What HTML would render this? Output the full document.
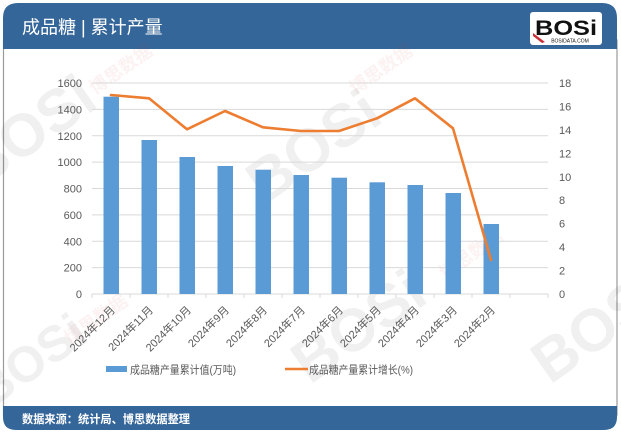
<!DOCTYPE html>
<html><head><meta charset="utf-8"><style>
html,body{margin:0;padding:0;background:#fff;}
svg{display:block;}
text{font-family:"Liberation Sans","Noto Sans CJK SC",sans-serif;}
</style></head><body>
<svg width="621" height="433" viewBox="0 0 621 433" xmlns="http://www.w3.org/2000/svg">
<rect x="0" y="0" width="621" height="433" fill="#fff"/>
<!-- frame -->
<rect x="3.5" y="40" width="613.5" height="375" fill="#fff" stroke="#9a9a9a" stroke-width="1.2"/>
<!-- header -->
<path d="M3,49 L3,18 Q3,3 18,3 L602,3 Q617,3 617,18 L617,49 Z" fill="#356699"/>
<text x="22" y="33.5" font-size="18" fill="#fff">成品糖 | 累计产量</text>
<!-- logo -->
<rect x="530" y="12" width="72" height="33" rx="3" fill="#fff"/>
<text x="566" y="35" font-size="21" font-weight="bold" fill="#111" text-anchor="middle" style="font-family:'Liberation Sans',sans-serif" textLength="62" lengthAdjust="spacingAndGlyphs">BOSi</text>
<path d="M533,33 L545,42 L542,43 L533,36 Z" fill="#c8313a"/>
<text x="570" y="42.5" font-size="5" fill="#111" text-anchor="middle">BOSIDATA.COM</text>
<!-- footer -->
<path d="M3,406 L617,406 L617,417 Q617,430 604,430 L16,430 Q3,430 3,417 Z" fill="#356699"/>
<text x="22" y="423" font-size="11.5" font-weight="bold" fill="#fff" textLength="168" lengthAdjust="spacingAndGlyphs">数据来源：统计局、博思数据整理</text>

<!-- watermarks -->
<g fill="#000" opacity="0.06" font-weight="bold" style="font-family:'Liberation Sans',sans-serif">
<text x="0" y="0" font-size="60" transform="translate(-20,190) rotate(-35)">BOSi</text>
<text x="0" y="0" font-size="60" transform="translate(265,205) rotate(-35)">BOSi</text>
<text x="0" y="0" font-size="60" transform="translate(310,385) rotate(-35)">BOSi</text>
<text x="0" y="0" font-size="60" transform="translate(550,385) rotate(-35)">BOSi</text>
<text x="0" y="0" font-size="50" transform="translate(-10,410) rotate(-35)">BOSi</text>
</g>
<g fill="#d04040" opacity="0.07" font-size="18" font-weight="bold">
<text transform="translate(95,95) rotate(-35)">博思数据</text>
<text transform="translate(355,95) rotate(-35)">博思数据</text>
<text transform="translate(445,280) rotate(-35)">博思数据</text>
<text transform="translate(70,345) rotate(-35)">博思数据</text>
</g>

<!-- gridlines -->
<g stroke="#d9d9d9" stroke-width="1">
<line x1="92" x2="548" y1="83" y2="83"/>
<line x1="92" x2="548" y1="109.4" y2="109.4"/>
<line x1="92" x2="548" y1="135.8" y2="135.8"/>
<line x1="92" x2="548" y1="162.1" y2="162.1"/>
<line x1="92" x2="548" y1="188.5" y2="188.5"/>
<line x1="92" x2="548" y1="214.9" y2="214.9"/>
<line x1="92" x2="548" y1="241.3" y2="241.3"/>
<line x1="92" x2="548" y1="267.6" y2="267.6"/>
<line x1="92" x2="548" y1="294" y2="294"/>
</g>
<g stroke="#d9d9d9" stroke-width="1">
<line x1="92" x2="92" y1="294" y2="298"/><line x1="130" x2="130" y1="294" y2="298"/>
<line x1="168" x2="168" y1="294" y2="298"/><line x1="206" x2="206" y1="294" y2="298"/>
<line x1="244" x2="244" y1="294" y2="298"/><line x1="282" x2="282" y1="294" y2="298"/>
<line x1="320" x2="320" y1="294" y2="298"/><line x1="358" x2="358" y1="294" y2="298"/>
<line x1="396" x2="396" y1="294" y2="298"/><line x1="434" x2="434" y1="294" y2="298"/>
<line x1="472" x2="472" y1="294" y2="298"/><line x1="510" x2="510" y1="294" y2="298"/>
<line x1="548" x2="548" y1="294" y2="298"/>
</g>

<!-- left axis labels -->
<g font-size="11" fill="#595959" text-anchor="end">
<text x="82" y="87">1600</text>
<text x="82" y="113.4">1400</text>
<text x="82" y="139.8">1200</text>
<text x="82" y="166.1">1000</text>
<text x="82" y="192.5">800</text>
<text x="82" y="218.9">600</text>
<text x="82" y="245.3">400</text>
<text x="82" y="271.6">200</text>
<text x="82" y="298">0</text>
</g>
<!-- right axis labels -->
<g font-size="11" fill="#595959">
<text x="559" y="87">18</text>
<text x="559" y="110.4">16</text>
<text x="559" y="133.9">14</text>
<text x="559" y="157.3">12</text>
<text x="559" y="180.8">10</text>
<text x="559" y="204.2">8</text>
<text x="559" y="227.7">6</text>
<text x="559" y="251.1">4</text>
<text x="559" y="274.6">2</text>
<text x="559" y="298">0</text>
</g>

<!-- bars -->
<g fill="#5b9bd5">
<rect x="103.5" y="96.7" width="15.5" height="197.3"/>
<rect x="141.5" y="140" width="15.5" height="154"/>
<rect x="179.5" y="157" width="15.5" height="137"/>
<rect x="217.5" y="166" width="15.5" height="128"/>
<rect x="255.5" y="169.7" width="15.5" height="124.3"/>
<rect x="293.5" y="175" width="15.5" height="119"/>
<rect x="331.5" y="177.7" width="15.5" height="116.3"/>
<rect x="369.5" y="182.3" width="15.5" height="111.7"/>
<rect x="407.5" y="185" width="15.5" height="109"/>
<rect x="445.5" y="193" width="15.5" height="101"/>
<rect x="483.5" y="224" width="15.5" height="70"/>
</g>
<!-- line -->
<polyline fill="none" stroke="#ed7d31" stroke-width="2.6" stroke-linejoin="round" stroke-linecap="round"
points="111,95 149,98.3 187,129.3 225,111 263,127.3 301,131 339,131 377,118.3 415,98.3 453,128.3 491,260"/>

<!-- x labels -->
<g font-size="11" fill="#595959" text-anchor="end">
<text transform="translate(113,308) rotate(-45)" dy="0.35em">2024年12月</text>
<text transform="translate(151,308) rotate(-45)" dy="0.35em">2024年11月</text>
<text transform="translate(189,308) rotate(-45)" dy="0.35em">2024年10月</text>
<text transform="translate(227,308) rotate(-45)" dy="0.35em">2024年9月</text>
<text transform="translate(265,308) rotate(-45)" dy="0.35em">2024年8月</text>
<text transform="translate(303,308) rotate(-45)" dy="0.35em">2024年7月</text>
<text transform="translate(341,308) rotate(-45)" dy="0.35em">2024年6月</text>
<text transform="translate(379,308) rotate(-45)" dy="0.35em">2024年5月</text>
<text transform="translate(417,308) rotate(-45)" dy="0.35em">2024年4月</text>
<text transform="translate(455,308) rotate(-45)" dy="0.35em">2024年3月</text>
<text transform="translate(493,308) rotate(-45)" dy="0.35em">2024年2月</text>
</g>

<!-- legend -->
<rect x="106" y="366" width="21" height="6" fill="#5b9bd5"/>
<text x="130" y="373.5" font-size="11" fill="#595959" textLength="106" lengthAdjust="spacingAndGlyphs">成品糖产量累计值(万吨)</text>
<line x1="285" x2="308" y1="369" y2="369" stroke="#ed7d31" stroke-width="2.6"/>
<text x="309" y="373.5" font-size="11" fill="#595959" textLength="104" lengthAdjust="spacingAndGlyphs">成品糖产量累计增长(%)</text>
</svg>
</body></html>
